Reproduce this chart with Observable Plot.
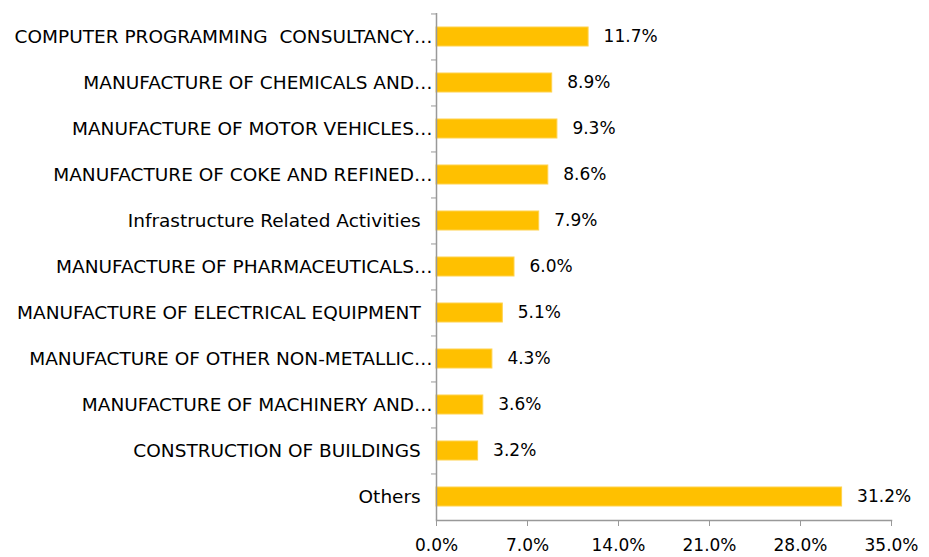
<!DOCTYPE html>
<html>
<head>
<meta charset="utf-8">
<script src="https://cdn.jsdelivr.net/npm/d3@7"></script>
<script src="https://cdn.jsdelivr.net/npm/@observablehq/plot@0.6"></script>
<style>
  html, body { margin: 0; padding: 0; background: #fff; }
  #chart { width: 929px; height: 557px; }
</style>
</head>
<body>
<div id="chart"></div>
<script>
const categories = [
  "COMPUTER PROGRAMMING  CONSULTANCY…",
  "MANUFACTURE OF CHEMICALS AND…",
  "MANUFACTURE OF MOTOR VEHICLES…",
  "MANUFACTURE OF COKE AND REFINED…",
  "Infrastructure Related Activities\u00a0\u00a0",
  "MANUFACTURE OF PHARMACEUTICALS…",
  "MANUFACTURE OF ELECTRICAL EQUIPMENT\u00a0\u00a0",
  "MANUFACTURE OF OTHER NON-METALLIC…",
  "MANUFACTURE OF MACHINERY AND…",
  "CONSTRUCTION OF BUILDINGS\u00a0\u00a0",
  "Others\u00a0\u00a0"
];
const shares = [11.7, 8.9, 9.3, 8.6, 7.9, 6.0, 5.1, 4.3, 3.6, 3.2, 31.2];
const xTicks = [0, 7, 14, 21, 28, 35];

const data = categories.map((c, i) => ({category: c, value: shares[i]}));

const font = "'DejaVu Sans', sans-serif";
const step = (520 - 13) / categories.length;

const chart = Plot.plot({
  width: 929,
  height: 557,
  marginLeft: 436,
  marginRight: 38,
  marginTop: 13,
  marginBottom: 37,
  style: {fontFamily: font, fontSize: "17px", color: "#000", background: "#fff"},
  x: {domain: [0, 35], ticks: xTicks},
  y: {domain: categories, paddingInner: 0.58, paddingOuter: 0.29, align: 0.5},
  marks: [
    Plot.barX(data, {x: "value", y: "category", fill: "#FFC000", stroke: "#FFD24D", strokeWidth: 1}),
    Plot.text(data, {x: "value", y: "category", text: d => d.value.toFixed(1) + "%", textAnchor: "start", dx: 15, fontSize: 17, fill: "#000"}),
    Plot.ruleX([0], {stroke: "#999", strokeWidth: 1.5}),
    Plot.frame({anchor: "bottom", stroke: "#999", strokeWidth: 1.5}),
    Plot.axisX({ticks: xTicks, tickSize: 6, tickPadding: 12, tickFormat: d => d.toFixed(1) + "%", stroke: "#999", fill: "#000", fontSize: 17, label: null}),
    Plot.axisY({tickSize: 5, dy: -step / 2, text: null, stroke: "#999", label: null}),
    Plot.axisY({tickSize: 0, tickPadding: 4, fill: "#000", fontSize: 18.5, label: null})
  ]
});
document.getElementById("chart").appendChild(chart);
</script>
</body>
</html>
